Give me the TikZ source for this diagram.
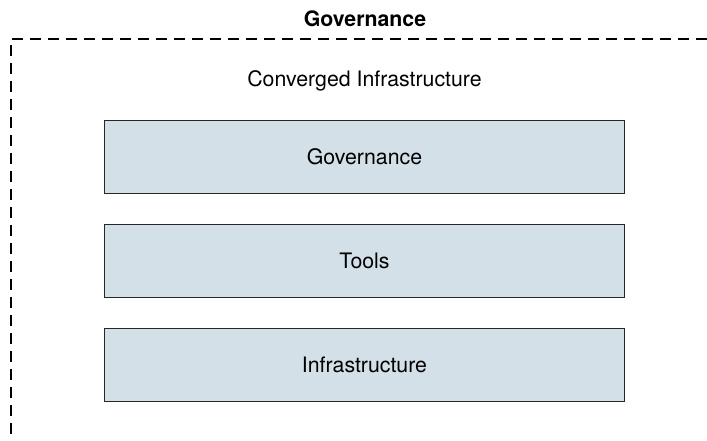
\documentclass[tikz,border=0pt]{standalone}
\usepackage{fontspec}
\setmainfont{TeX Gyre Heros}
\usetikzlibrary{positioning}
\definecolor{layerfill}{RGB}{211,224,232}

\begin{document}
\begin{tikzpicture}[x=1pt,y=-1pt,node distance=104pt,on grid,
		layer/.style={draw=black!85,line width=1.4pt,fill=layerfill,minimum width=520pt,minimum height=73pt,font=\fontsize{21.3}{25}\selectfont},
		frame/.style={line width=2.8pt,dash pattern=on 11pt off 7pt}]
		\useasboundingbox (0,0) rectangle (707,440);
		
		\node (title) at (365,19) [font=\fontsize{21.3}{25}\selectfont\bfseries] {Governance};
		\node (ci) at (364.5,80.5) [font=\fontsize{21.3}{25}\selectfont] {Converged Infrastructure};
		
		\node (gov) at (364.5,157) [layer] {Governance};
		\node (tools) [layer, below=of gov] {Tools};
		\node (infra) [layer, below=of tools] {Infrastructure};
		
		\draw [frame] (707,39) -| (11,440);
		
	\end{tikzpicture}
\end{document}
